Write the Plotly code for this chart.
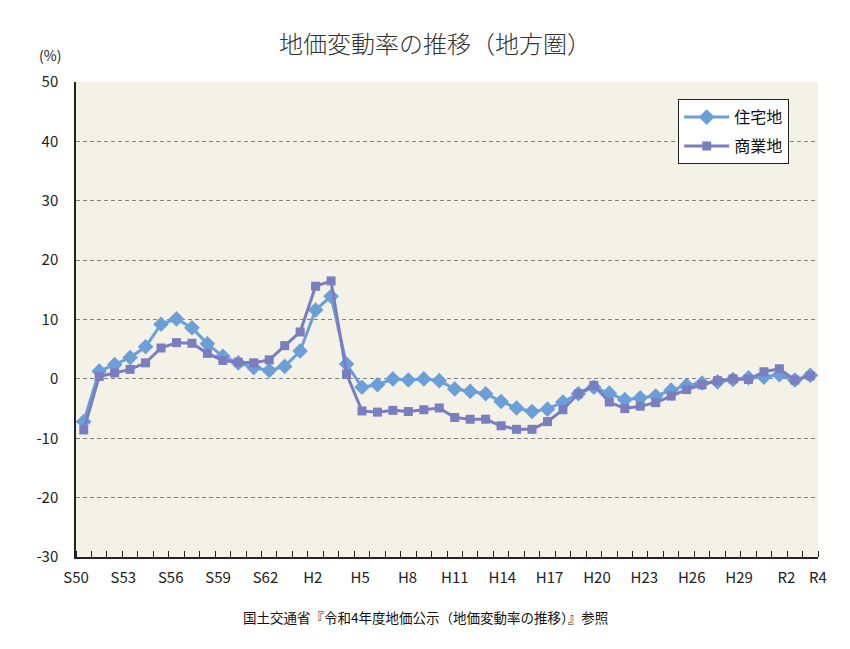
import plotly.graph_objects as go

years = list(range(1975, 2023))
tick_labels = ["S50", "S53", "S56", "S59", "S62", "H2", "H5", "H8", "H11",
               "H14", "H17", "H20", "H23", "H26", "H29", "R2", "R4"]
tick_years = [1975, 1978, 1981, 1984, 1987, 1990, 1993, 1996, 1999,
              2002, 2005, 2008, 2011, 2014, 2017, 2020, 2022]
y_ticks = [-30, -20, -10, 0, 10, 20, 30, 40, 50]

residential = [-7.2, 1.3, 2.4, 3.6, 5.4, 9.2, 10.1, 8.6, 5.9, 3.8,
               2.7, 1.9, 1.4, 2.1, 4.7, 11.6, 13.9, 2.5, -1.4, -1.0,
               0.0, -0.2, 0.0, -0.3, -1.7, -2.1, -2.5, -3.8, -4.9, -5.5,
               -5.1, -3.9, -2.5, -1.4, -2.4, -3.5, -3.2, -2.9, -1.9, -1.1,
               -0.7, -0.5, -0.1, 0.2, 0.3, 0.7, -0.2, 0.6]
commercial = [-8.6, 0.4, 1.0, 1.6, 2.7, 5.2, 6.1, 6.0, 4.3, 3.1,
              2.8, 2.7, 3.2, 5.6, 7.9, 15.6, 16.5, 0.8, -5.4, -5.6,
              -5.3, -5.5, -5.2, -4.9, -6.5, -6.8, -6.8, -7.9, -8.5, -8.5,
              -7.2, -5.2, -2.5, -1.1, -3.9, -5.0, -4.6, -4.0, -2.9, -1.8,
              -1.0, -0.3, 0.0, -0.1, 1.2, 1.7, -0.2, 0.5]

n = len(years)
xi = list(range(n))
# label axis spans the full plot width (first label at left edge, last at right edge)
span = n / (n - 1)
tickvals = [-0.5 + (y - years[0]) * span for y in tick_years]
boundaries = [k - 0.5 for k in range(n + 1)]

font_jp = "Noto Sans CJK JP"
col_res = "#6A9FD8"
col_com = "#7A7DC0"

# page body has an 8px margin; figure coords = page coords - 8
W, H = 842, 641
ML, MR, MT, MB = 68, 32, 74, 92
plot_w = W - ML - MR
plot_h = H - MT - MB

fig = go.Figure()
fig.add_trace(go.Scatter(
    x=xi, y=residential, name="住宅地", mode="lines+markers",
    line=dict(color=col_res, width=3),
    marker=dict(symbol="diamond", size=12, color=col_res),
    legendgroup="a",
))
fig.add_trace(go.Scatter(
    x=xi, y=commercial, name="商業地", mode="lines+markers",
    line=dict(color=col_com, width=3),
    marker=dict(symbol="square", size=9, color=col_com),
    legendgroup="b",
))

fig.update_layout(
    width=W, height=H,
    margin=dict(l=ML, r=MR, t=MT, b=MB),
    paper_bgcolor="white",
    plot_bgcolor="#F4F1E7",
    font=dict(family=font_jp, color="#222222"),
    title=dict(text="地価変動率の推移（地方圏）", x=(435 - 8) / W, xanchor="center",
               y=1 - (45 - 8) / H, yanchor="middle", yref="container",
               font=dict(size=24, color="#333333", family=font_jp, weight=300)),
    xaxis=dict(
        range=[-0.5, n - 0.5],
        tickmode="array", tickvals=tickvals, ticktext=tick_labels,
        ticks="", ticklabelstandoff=6,
        tickfont=dict(size=15, color="#222222", family=font_jp),
        showgrid=False, zeroline=False,
        showline=True, linecolor="#222222", linewidth=1.5,
        minor=dict(tickmode="array", tickvals=boundaries, ticks="inside",
                   ticklen=6, tickcolor="#222222", tickwidth=1, showgrid=False),
    ),
    yaxis=dict(
        range=[-30, 50], tickmode="array", tickvals=y_ticks,
        ticktext=[str(v) for v in y_ticks],
        ticks="", ticklabelstandoff=13,
        tickfont=dict(size=15, color="#222222", family=font_jp),
        showgrid=True, gridcolor="#808080", gridwidth=1.2, griddash="4px,3px",
        zeroline=False,
        showline=True, linecolor="#222222", linewidth=1.5,
    ),
    legend=dict(
        x=(678 - 8 - ML) / plot_w, y=(H - MB - (99 - 8)) / plot_h,
        xanchor="left", yanchor="top",
        bgcolor="white", bordercolor="#222222", borderwidth=1.2,
        font=dict(size=16, color="#111111", family=font_jp),
        traceorder="grouped", tracegroupgap=5,
        itemwidth=45,
    ),
)

fig.add_annotation(text="(%)", xref="paper", yref="paper",
                   x=(50 - 8 - ML) / plot_w, y=(H - MB - (55 - 8)) / plot_h,
                   xanchor="center", yanchor="middle", showarrow=False,
                   font=dict(size=14, color="#222222", family=font_jp))
fig.add_annotation(text="国土交通省『令和4年度地価公示（地価変動率の推移）』参照",
                   xref="paper", yref="paper",
                   x=(425 - 8 - ML) / plot_w, y=(H - MB - (617 - 8)) / plot_h,
                   xanchor="center", yanchor="middle", showarrow=False,
                   font=dict(size=13.5, color="#111111", family=font_jp))

fig.write_html("out.html")
